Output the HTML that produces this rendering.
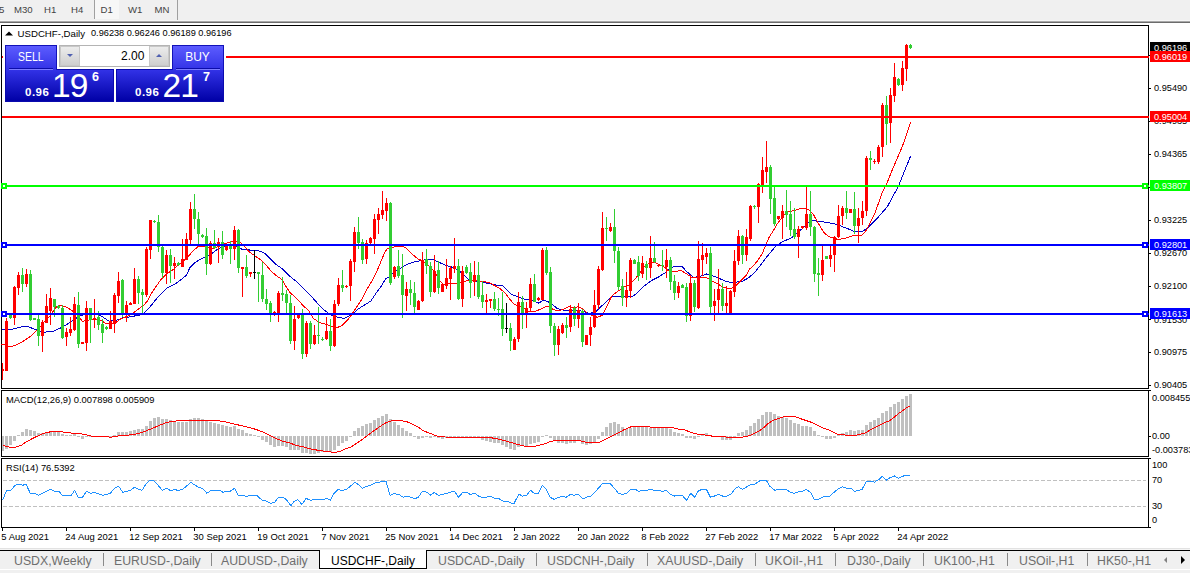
<!DOCTYPE html><html><head><meta charset="utf-8"><title>USDCHF-,Daily</title><style>
*{margin:0;padding:0;box-sizing:border-box}
html,body{width:1190px;height:573px;overflow:hidden;background:#fff}
body{font-family:"Liberation Sans",sans-serif;position:relative;color:#000}
.abs{position:absolute}
.t{position:absolute;white-space:nowrap;line-height:1}
.tb{left:0;top:0;width:1190px;height:20px;background:#f0f0f0}
.tbt{font-size:9.6px;color:#444;top:5px}
.ax{font-size:9.2px;left:1154px;color:#000}
.lbl{position:absolute;left:1150px;width:40px;height:11px;color:#fff;font-size:9.2px;line-height:12px;overflow:hidden;padding-left:4px;white-space:nowrap}
.dt{font-size:9.45px;top:532px;color:#000}
.tab{font-size:12.3px;top:555px;color:#6e6e6e}
.sep{position:absolute;top:553px;width:1px;height:13px;background:#8a8a8a}
</style></head><body>
<div class="abs tb"></div>
<div class="abs" style="left:0;top:20px;width:1190px;height:1px;background:#f6f6f6"></div>
<div class="abs" style="left:0;top:21px;width:1190px;height:1px;background:#a8a8a8"></div>
<div class="abs" style="left:0;top:22px;width:1190px;height:1px;background:#6c6c6c"></div>
<div class="abs" style="left:95px;top:0;width:24px;height:19px;background:#f7f7f7"></div>
<div class="abs" style="left:94px;top:0;width:1px;height:19px;background:#a0a0a0"></div>
<div class="abs" style="left:177px;top:0;width:1px;height:20px;background:#a0a0a0"></div>
<div class="t tbt" style="left:-1px">5</div>
<div class="t tbt" style="left:14px">M30</div>
<div class="t tbt" style="left:44px">H1</div>
<div class="t tbt" style="left:71px">H4</div>
<div class="t tbt" style="left:100.5px">D1</div>
<div class="t tbt" style="left:128px">W1</div>
<div class="t tbt" style="left:154.5px">MN</div>
<svg class="abs" style="left:0;top:0" width="1190" height="573" viewBox="0 0 1190 573" shape-rendering="crispEdges">
<rect x="1" y="25" width="1148" height="1" fill="#000"/>
<rect x="1" y="388" width="1148" height="1" fill="#000"/>
<rect x="1" y="25" width="1" height="364" fill="#000"/>
<rect x="1148" y="25" width="1" height="364" fill="#000"/>
<rect x="1" y="390" width="1148" height="1" fill="#000"/>
<rect x="1" y="456" width="1148" height="1" fill="#000"/>
<rect x="1" y="390" width="1" height="67" fill="#000"/>
<rect x="1148" y="390" width="1" height="67" fill="#000"/>
<rect x="1" y="458" width="1148" height="1" fill="#000"/>
<rect x="1" y="527" width="1148" height="1" fill="#000"/>
<rect x="1" y="458" width="1" height="70" fill="#000"/>
<rect x="1148" y="458" width="1" height="70" fill="#000"/>
<rect x="1149" y="55" width="2" height="1" fill="#000"/>
<rect x="1149" y="88" width="2" height="1" fill="#000"/>
<rect x="1149" y="121" width="2" height="1" fill="#000"/>
<rect x="1149" y="154" width="2" height="1" fill="#000"/>
<rect x="1149" y="187" width="2" height="1" fill="#000"/>
<rect x="1149" y="220" width="2" height="1" fill="#000"/>
<rect x="1149" y="253" width="2" height="1" fill="#000"/>
<rect x="1149" y="286" width="2" height="1" fill="#000"/>
<rect x="1149" y="319" width="2" height="1" fill="#000"/>
<rect x="1149" y="352" width="2" height="1" fill="#000"/>
<rect x="1149" y="385" width="2" height="1" fill="#000"/>
<rect x="1149" y="390" width="2" height="1" fill="#000"/>
<rect x="1149" y="436" width="2" height="1" fill="#000"/>
<rect x="1149" y="458" width="2" height="1" fill="#000"/>
<rect x="1149" y="527" width="2" height="1" fill="#000"/>
<rect x="2" y="528" width="1" height="3" fill="#000"/>
<rect x="66" y="528" width="1" height="3" fill="#000"/>
<rect x="130" y="528" width="1" height="3" fill="#000"/>
<rect x="194" y="528" width="1" height="3" fill="#000"/>
<rect x="258" y="528" width="1" height="3" fill="#000"/>
<rect x="322" y="528" width="1" height="3" fill="#000"/>
<rect x="386" y="528" width="1" height="3" fill="#000"/>
<rect x="450" y="528" width="1" height="3" fill="#000"/>
<rect x="514" y="528" width="1" height="3" fill="#000"/>
<rect x="578" y="528" width="1" height="3" fill="#000"/>
<rect x="642" y="528" width="1" height="3" fill="#000"/>
<rect x="706" y="528" width="1" height="3" fill="#000"/>
<rect x="770" y="528" width="1" height="3" fill="#000"/>
<rect x="834" y="528" width="1" height="3" fill="#000"/>
<rect x="898" y="528" width="1" height="3" fill="#000"/>
<line x1="3" y1="480.5" x2="1146" y2="480.5" stroke="#c0c0c0" stroke-width="1" stroke-dasharray="3.5,2.5"/>
<line x1="3" y1="506.5" x2="1146" y2="506.5" stroke="#c0c0c0" stroke-width="1" stroke-dasharray="3.5,2.5"/>
<rect x="2" y="436" width="2" height="15" fill="#c0c0c0"/>
<rect x="5" y="436" width="3" height="13" fill="#c0c0c0"/>
<rect x="9" y="436" width="3" height="9" fill="#c0c0c0"/>
<rect x="13" y="436" width="3" height="5" fill="#c0c0c0"/>
<rect x="17" y="435" width="3" height="1" fill="#c0c0c0"/>
<rect x="21" y="432" width="3" height="4" fill="#c0c0c0"/>
<rect x="25" y="429" width="3" height="7" fill="#c0c0c0"/>
<rect x="29" y="430" width="3" height="6" fill="#c0c0c0"/>
<rect x="33" y="431" width="3" height="5" fill="#c0c0c0"/>
<rect x="37" y="433" width="3" height="3" fill="#c0c0c0"/>
<rect x="41" y="433" width="3" height="3" fill="#c0c0c0"/>
<rect x="45" y="433" width="3" height="3" fill="#c0c0c0"/>
<rect x="49" y="432" width="3" height="4" fill="#c0c0c0"/>
<rect x="53" y="432" width="3" height="4" fill="#c0c0c0"/>
<rect x="57" y="432" width="3" height="4" fill="#c0c0c0"/>
<rect x="61" y="434" width="3" height="2" fill="#c0c0c0"/>
<rect x="65" y="435" width="3" height="1" fill="#c0c0c0"/>
<rect x="69" y="435" width="3" height="1" fill="#c0c0c0"/>
<rect x="73" y="434" width="3" height="2" fill="#c0c0c0"/>
<rect x="77" y="436" width="3" height="1" fill="#c0c0c0"/>
<rect x="81" y="436" width="3" height="3" fill="#c0c0c0"/>
<rect x="85" y="436" width="3" height="1" fill="#c0c0c0"/>
<rect x="89" y="436" width="3" height="1" fill="#c0c0c0"/>
<rect x="93" y="436" width="3" height="1" fill="#c0c0c0"/>
<rect x="97" y="436" width="3" height="1" fill="#c0c0c0"/>
<rect x="101" y="436" width="3" height="1" fill="#c0c0c0"/>
<rect x="105" y="436" width="3" height="1" fill="#c0c0c0"/>
<rect x="109" y="436" width="3" height="1" fill="#c0c0c0"/>
<rect x="113" y="435" width="3" height="1" fill="#c0c0c0"/>
<rect x="117" y="432" width="3" height="4" fill="#c0c0c0"/>
<rect x="121" y="432" width="3" height="4" fill="#c0c0c0"/>
<rect x="125" y="432" width="3" height="4" fill="#c0c0c0"/>
<rect x="129" y="431" width="3" height="5" fill="#c0c0c0"/>
<rect x="133" y="430" width="3" height="6" fill="#c0c0c0"/>
<rect x="137" y="429" width="3" height="7" fill="#c0c0c0"/>
<rect x="141" y="429" width="3" height="7" fill="#c0c0c0"/>
<rect x="145" y="426" width="3" height="10" fill="#c0c0c0"/>
<rect x="149" y="421" width="3" height="15" fill="#c0c0c0"/>
<rect x="153" y="418" width="3" height="18" fill="#c0c0c0"/>
<rect x="157" y="417" width="3" height="19" fill="#c0c0c0"/>
<rect x="161" y="419" width="3" height="17" fill="#c0c0c0"/>
<rect x="165" y="419" width="3" height="17" fill="#c0c0c0"/>
<rect x="169" y="420" width="3" height="16" fill="#c0c0c0"/>
<rect x="173" y="421" width="3" height="15" fill="#c0c0c0"/>
<rect x="177" y="422" width="3" height="14" fill="#c0c0c0"/>
<rect x="181" y="422" width="3" height="14" fill="#c0c0c0"/>
<rect x="185" y="422" width="3" height="14" fill="#c0c0c0"/>
<rect x="189" y="419" width="3" height="17" fill="#c0c0c0"/>
<rect x="193" y="418" width="3" height="18" fill="#c0c0c0"/>
<rect x="197" y="418" width="3" height="18" fill="#c0c0c0"/>
<rect x="201" y="419" width="3" height="17" fill="#c0c0c0"/>
<rect x="205" y="421" width="3" height="15" fill="#c0c0c0"/>
<rect x="209" y="422" width="3" height="14" fill="#c0c0c0"/>
<rect x="213" y="423" width="3" height="13" fill="#c0c0c0"/>
<rect x="217" y="424" width="3" height="12" fill="#c0c0c0"/>
<rect x="221" y="425" width="3" height="11" fill="#c0c0c0"/>
<rect x="225" y="426" width="3" height="10" fill="#c0c0c0"/>
<rect x="229" y="427" width="3" height="9" fill="#c0c0c0"/>
<rect x="233" y="426" width="3" height="10" fill="#c0c0c0"/>
<rect x="237" y="429" width="3" height="7" fill="#c0c0c0"/>
<rect x="241" y="430" width="3" height="6" fill="#c0c0c0"/>
<rect x="245" y="433" width="3" height="3" fill="#c0c0c0"/>
<rect x="249" y="434" width="3" height="2" fill="#c0c0c0"/>
<rect x="253" y="435" width="3" height="1" fill="#c0c0c0"/>
<rect x="257" y="436" width="3" height="1" fill="#c0c0c0"/>
<rect x="261" y="436" width="3" height="4" fill="#c0c0c0"/>
<rect x="265" y="436" width="3" height="6" fill="#c0c0c0"/>
<rect x="269" y="436" width="3" height="9" fill="#c0c0c0"/>
<rect x="273" y="436" width="3" height="11" fill="#c0c0c0"/>
<rect x="277" y="436" width="3" height="10" fill="#c0c0c0"/>
<rect x="281" y="436" width="3" height="10" fill="#c0c0c0"/>
<rect x="285" y="436" width="3" height="11" fill="#c0c0c0"/>
<rect x="289" y="436" width="3" height="14" fill="#c0c0c0"/>
<rect x="293" y="436" width="3" height="14" fill="#c0c0c0"/>
<rect x="297" y="436" width="3" height="14" fill="#c0c0c0"/>
<rect x="301" y="436" width="3" height="17" fill="#c0c0c0"/>
<rect x="305" y="436" width="3" height="17" fill="#c0c0c0"/>
<rect x="309" y="436" width="3" height="18" fill="#c0c0c0"/>
<rect x="313" y="436" width="3" height="18" fill="#c0c0c0"/>
<rect x="317" y="436" width="3" height="17" fill="#c0c0c0"/>
<rect x="321" y="436" width="3" height="16" fill="#c0c0c0"/>
<rect x="325" y="436" width="3" height="16" fill="#c0c0c0"/>
<rect x="329" y="436" width="3" height="16" fill="#c0c0c0"/>
<rect x="333" y="436" width="3" height="14" fill="#c0c0c0"/>
<rect x="337" y="436" width="3" height="10" fill="#c0c0c0"/>
<rect x="341" y="436" width="3" height="7" fill="#c0c0c0"/>
<rect x="345" y="436" width="3" height="5" fill="#c0c0c0"/>
<rect x="349" y="436" width="3" height="1" fill="#c0c0c0"/>
<rect x="353" y="431" width="3" height="5" fill="#c0c0c0"/>
<rect x="357" y="428" width="3" height="8" fill="#c0c0c0"/>
<rect x="361" y="426" width="3" height="10" fill="#c0c0c0"/>
<rect x="365" y="424" width="3" height="12" fill="#c0c0c0"/>
<rect x="369" y="423" width="3" height="13" fill="#c0c0c0"/>
<rect x="373" y="420" width="3" height="16" fill="#c0c0c0"/>
<rect x="377" y="418" width="3" height="18" fill="#c0c0c0"/>
<rect x="381" y="416" width="3" height="20" fill="#c0c0c0"/>
<rect x="385" y="414" width="3" height="22" fill="#c0c0c0"/>
<rect x="389" y="419" width="3" height="17" fill="#c0c0c0"/>
<rect x="393" y="422" width="3" height="14" fill="#c0c0c0"/>
<rect x="397" y="425" width="3" height="11" fill="#c0c0c0"/>
<rect x="401" y="428" width="3" height="8" fill="#c0c0c0"/>
<rect x="405" y="431" width="3" height="5" fill="#c0c0c0"/>
<rect x="409" y="433" width="3" height="3" fill="#c0c0c0"/>
<rect x="413" y="436" width="3" height="1" fill="#c0c0c0"/>
<rect x="417" y="436" width="3" height="3" fill="#c0c0c0"/>
<rect x="421" y="436" width="3" height="2" fill="#c0c0c0"/>
<rect x="425" y="436" width="3" height="1" fill="#c0c0c0"/>
<rect x="429" y="436" width="3" height="2" fill="#c0c0c0"/>
<rect x="433" y="436" width="3" height="1" fill="#c0c0c0"/>
<rect x="437" y="436" width="3" height="2" fill="#c0c0c0"/>
<rect x="441" y="436" width="3" height="3" fill="#c0c0c0"/>
<rect x="445" y="436" width="3" height="2" fill="#c0c0c0"/>
<rect x="449" y="436" width="3" height="1" fill="#c0c0c0"/>
<rect x="453" y="436" width="3" height="1" fill="#c0c0c0"/>
<rect x="457" y="436" width="3" height="1" fill="#c0c0c0"/>
<rect x="461" y="436" width="3" height="1" fill="#c0c0c0"/>
<rect x="465" y="436" width="3" height="1" fill="#c0c0c0"/>
<rect x="469" y="436" width="3" height="1" fill="#c0c0c0"/>
<rect x="473" y="436" width="3" height="1" fill="#c0c0c0"/>
<rect x="477" y="436" width="3" height="2" fill="#c0c0c0"/>
<rect x="481" y="436" width="3" height="4" fill="#c0c0c0"/>
<rect x="485" y="436" width="3" height="5" fill="#c0c0c0"/>
<rect x="489" y="436" width="3" height="6" fill="#c0c0c0"/>
<rect x="493" y="436" width="3" height="7" fill="#c0c0c0"/>
<rect x="497" y="436" width="3" height="7" fill="#c0c0c0"/>
<rect x="501" y="436" width="3" height="9" fill="#c0c0c0"/>
<rect x="505" y="436" width="3" height="11" fill="#c0c0c0"/>
<rect x="509" y="436" width="3" height="13" fill="#c0c0c0"/>
<rect x="513" y="436" width="3" height="14" fill="#c0c0c0"/>
<rect x="517" y="436" width="3" height="11" fill="#c0c0c0"/>
<rect x="521" y="436" width="3" height="10" fill="#c0c0c0"/>
<rect x="525" y="436" width="3" height="10" fill="#c0c0c0"/>
<rect x="529" y="436" width="3" height="8" fill="#c0c0c0"/>
<rect x="533" y="436" width="3" height="7" fill="#c0c0c0"/>
<rect x="537" y="436" width="3" height="6" fill="#c0c0c0"/>
<rect x="541" y="436" width="3" height="1" fill="#c0c0c0"/>
<rect x="545" y="435" width="3" height="1" fill="#c0c0c0"/>
<rect x="549" y="436" width="3" height="2" fill="#c0c0c0"/>
<rect x="553" y="436" width="3" height="5" fill="#c0c0c0"/>
<rect x="557" y="436" width="3" height="7" fill="#c0c0c0"/>
<rect x="561" y="436" width="3" height="7" fill="#c0c0c0"/>
<rect x="565" y="436" width="3" height="8" fill="#c0c0c0"/>
<rect x="569" y="436" width="3" height="7" fill="#c0c0c0"/>
<rect x="573" y="436" width="3" height="7" fill="#c0c0c0"/>
<rect x="577" y="436" width="3" height="5" fill="#c0c0c0"/>
<rect x="581" y="436" width="3" height="8" fill="#c0c0c0"/>
<rect x="585" y="436" width="3" height="9" fill="#c0c0c0"/>
<rect x="589" y="436" width="3" height="8" fill="#c0c0c0"/>
<rect x="593" y="436" width="3" height="6" fill="#c0c0c0"/>
<rect x="597" y="436" width="3" height="3" fill="#c0c0c0"/>
<rect x="601" y="432" width="3" height="4" fill="#c0c0c0"/>
<rect x="605" y="427" width="3" height="9" fill="#c0c0c0"/>
<rect x="609" y="423" width="3" height="13" fill="#c0c0c0"/>
<rect x="613" y="422" width="3" height="14" fill="#c0c0c0"/>
<rect x="617" y="424" width="3" height="12" fill="#c0c0c0"/>
<rect x="621" y="427" width="3" height="9" fill="#c0c0c0"/>
<rect x="625" y="429" width="3" height="7" fill="#c0c0c0"/>
<rect x="629" y="428" width="3" height="8" fill="#c0c0c0"/>
<rect x="633" y="427" width="3" height="9" fill="#c0c0c0"/>
<rect x="637" y="427" width="3" height="9" fill="#c0c0c0"/>
<rect x="641" y="427" width="3" height="9" fill="#c0c0c0"/>
<rect x="645" y="427" width="3" height="9" fill="#c0c0c0"/>
<rect x="649" y="428" width="3" height="8" fill="#c0c0c0"/>
<rect x="653" y="428" width="3" height="8" fill="#c0c0c0"/>
<rect x="657" y="428" width="3" height="8" fill="#c0c0c0"/>
<rect x="661" y="428" width="3" height="8" fill="#c0c0c0"/>
<rect x="665" y="428" width="3" height="8" fill="#c0c0c0"/>
<rect x="669" y="429" width="3" height="7" fill="#c0c0c0"/>
<rect x="673" y="432" width="3" height="4" fill="#c0c0c0"/>
<rect x="677" y="433" width="3" height="3" fill="#c0c0c0"/>
<rect x="681" y="434" width="3" height="2" fill="#c0c0c0"/>
<rect x="685" y="436" width="3" height="2" fill="#c0c0c0"/>
<rect x="689" y="436" width="3" height="2" fill="#c0c0c0"/>
<rect x="693" y="436" width="3" height="3" fill="#c0c0c0"/>
<rect x="697" y="436" width="3" height="1" fill="#c0c0c0"/>
<rect x="701" y="434" width="3" height="2" fill="#c0c0c0"/>
<rect x="705" y="433" width="3" height="3" fill="#c0c0c0"/>
<rect x="709" y="435" width="3" height="1" fill="#c0c0c0"/>
<rect x="713" y="436" width="3" height="1" fill="#c0c0c0"/>
<rect x="717" y="436" width="3" height="1" fill="#c0c0c0"/>
<rect x="721" y="436" width="3" height="4" fill="#c0c0c0"/>
<rect x="725" y="436" width="3" height="4" fill="#c0c0c0"/>
<rect x="729" y="436" width="3" height="4" fill="#c0c0c0"/>
<rect x="733" y="436" width="3" height="1" fill="#c0c0c0"/>
<rect x="737" y="433" width="3" height="3" fill="#c0c0c0"/>
<rect x="741" y="432" width="3" height="4" fill="#c0c0c0"/>
<rect x="745" y="430" width="3" height="6" fill="#c0c0c0"/>
<rect x="749" y="426" width="3" height="10" fill="#c0c0c0"/>
<rect x="753" y="423" width="3" height="13" fill="#c0c0c0"/>
<rect x="757" y="419" width="3" height="17" fill="#c0c0c0"/>
<rect x="761" y="415" width="3" height="21" fill="#c0c0c0"/>
<rect x="765" y="412" width="3" height="24" fill="#c0c0c0"/>
<rect x="769" y="412" width="3" height="24" fill="#c0c0c0"/>
<rect x="773" y="414" width="3" height="22" fill="#c0c0c0"/>
<rect x="777" y="416" width="3" height="20" fill="#c0c0c0"/>
<rect x="781" y="417" width="3" height="19" fill="#c0c0c0"/>
<rect x="785" y="418" width="3" height="18" fill="#c0c0c0"/>
<rect x="789" y="420" width="3" height="16" fill="#c0c0c0"/>
<rect x="793" y="423" width="3" height="13" fill="#c0c0c0"/>
<rect x="797" y="424" width="3" height="12" fill="#c0c0c0"/>
<rect x="801" y="426" width="3" height="10" fill="#c0c0c0"/>
<rect x="805" y="426" width="3" height="10" fill="#c0c0c0"/>
<rect x="809" y="427" width="3" height="9" fill="#c0c0c0"/>
<rect x="813" y="431" width="3" height="5" fill="#c0c0c0"/>
<rect x="817" y="435" width="3" height="1" fill="#c0c0c0"/>
<rect x="821" y="436" width="3" height="1" fill="#c0c0c0"/>
<rect x="825" y="436" width="3" height="3" fill="#c0c0c0"/>
<rect x="829" y="436" width="3" height="3" fill="#c0c0c0"/>
<rect x="833" y="436" width="3" height="2" fill="#c0c0c0"/>
<rect x="837" y="434" width="3" height="2" fill="#c0c0c0"/>
<rect x="841" y="433" width="3" height="3" fill="#c0c0c0"/>
<rect x="845" y="432" width="3" height="4" fill="#c0c0c0"/>
<rect x="849" y="430" width="3" height="6" fill="#c0c0c0"/>
<rect x="853" y="431" width="3" height="5" fill="#c0c0c0"/>
<rect x="857" y="430" width="3" height="6" fill="#c0c0c0"/>
<rect x="861" y="430" width="3" height="6" fill="#c0c0c0"/>
<rect x="865" y="425" width="3" height="11" fill="#c0c0c0"/>
<rect x="869" y="422" width="3" height="14" fill="#c0c0c0"/>
<rect x="873" y="420" width="3" height="16" fill="#c0c0c0"/>
<rect x="877" y="418" width="3" height="18" fill="#c0c0c0"/>
<rect x="881" y="413" width="3" height="23" fill="#c0c0c0"/>
<rect x="885" y="411" width="3" height="25" fill="#c0c0c0"/>
<rect x="889" y="407" width="3" height="29" fill="#c0c0c0"/>
<rect x="893" y="404" width="3" height="32" fill="#c0c0c0"/>
<rect x="897" y="402" width="3" height="34" fill="#c0c0c0"/>
<rect x="901" y="399" width="3" height="37" fill="#c0c0c0"/>
<rect x="905" y="396" width="3" height="40" fill="#c0c0c0"/>
<rect x="909" y="394" width="3" height="42" fill="#c0c0c0"/>
</svg>
<svg class="abs" style="left:0;top:0" width="1190" height="573" viewBox="0 0 1190 573">
<polyline points="2.5,445.6 6.7,446.4 11.8,447.6 16.8,446.9 21.8,445.1 26.9,441.4 33.6,438.0 40.3,434.7 45.4,433.0 50.4,431.8 55.5,431.3 60.5,431.6 67.2,432.6 73.9,433.3 80.7,433.8 87.4,435.0 94.1,436.7 100.8,436.8 107.6,436.8 110.9,437.3 117.6,436.0 124.4,435.5 131.1,434.7 137.8,433.8 144.5,431.6 151.3,428.8 158.0,425.9 164.7,423.2 171.4,421.5 178.2,420.7 184.9,420.7 191.6,420.5 199.2,420.5 206.1,420.5 216.2,420.5 224.6,421.7 233.0,423.7 241.4,425.7 249.8,427.6 256.5,429.6 263.2,432.1 269.9,435.5 276.7,438.9 283.4,441.4 290.1,443.1 296.8,445.6 303.6,446.9 310.3,448.9 317.0,450.1 323.7,451.1 330.5,452.0 335.5,452.3 340.5,451.1 345.6,448.9 350.6,447.3 355.7,443.9 362.4,439.4 369.1,434.3 374.2,430.5 379.2,427.1 384.2,423.7 389.3,421.2 394.7,420.5 399.8,420.5 406.5,421.5 413.2,424.6 418.3,427.1 423.3,430.8 430.0,433.3 436.7,436.0 445.1,437.0 455.2,437.2 472.0,437.2 488.8,437.3 497.2,438.9 505.6,441.0 514.1,443.4 520.8,445.2 525.8,446.4 534.2,446.4 540.9,444.7 546.0,443.4 550.2,441.4 556.1,440.5 564.5,440.5 572.9,440.5 579.6,440.5 583.8,441.7 587.2,442.4 590.7,442.7 599.1,442.4 604.2,440.0 610.9,436.7 617.6,433.3 624.3,429.6 631.1,426.8 637.8,426.4 647.9,426.6 651.2,427.4 661.3,427.4 671.4,427.4 678.1,429.1 684.8,429.9 691.6,432.6 698.3,434.3 705.0,435.0 713.4,436.3 723.5,436.7 728.5,437.3 742.0,437.2 750.4,435.5 758.8,431.3 763.8,427.6 768.9,422.9 773.9,419.9 784.4,416.4 794.5,416.4 801.2,418.9 811.3,422.3 821.4,427.3 829.8,430.3 836.5,434.0 843.2,434.5 846.6,435.4 855.0,435.4 865.1,432.9 873.5,428.3 881.9,423.9 890.3,420.3 898.7,413.5 905.4,408.5 909.6,406.0" fill="none" stroke="#ff0000" stroke-width="1" stroke-linejoin="round" shape-rendering="crispEdges"/>
<polyline points="2.5,500.3 6.7,490.3 10.9,490.3 15.1,485.2 18.5,484.4 22.7,485.2 26.1,484.4 30.3,493.3 34.5,493.3 38.7,495.3 43.7,492.8 50.4,489.4 54.6,491.1 58.8,491.1 63.0,496.1 67.2,495.3 71.4,495.3 74.5,490.3 78.2,497.3 82.4,497.3 86.6,491.1 90.8,493.3 94.1,492.3 98.3,493.6 102.5,495.3 110.1,493.6 114.3,488.6 118.5,486.1 122.7,492.3 130.3,490.3 134.5,487.2 137.8,488.9 142.0,490.3 146.2,483.5 149.6,480.5 153.8,480.5 158.0,485.2 162.2,490.3 166.4,488.2 170.6,490.6 174.8,489.4 178.2,490.6 182.4,489.4 186.6,486.1 190.8,482.2 195.0,485.2 198.5,487.2 202.7,488.6 206.9,493.3 211.1,490.3 219.5,490.3 222.9,492.3 226.3,491.1 230.5,491.1 234.7,488.2 238.0,495.3 243.9,495.3 246.4,496.5 249.8,495.3 256.5,495.3 262.4,500.3 266.6,501.2 270.8,503.4 275.0,502.0 278.4,497.3 283.4,497.3 286.8,500.3 291.0,505.7 294.3,501.2 297.7,499.5 301.9,504.5 306.1,498.3 310.3,500.3 314.5,499.5 323.7,499.5 327.1,498.3 330.5,500.3 333.8,493.6 338.0,489.4 342.2,490.6 346.4,489.4 350.6,486.1 354.8,482.2 358.2,484.4 362.4,488.2 365.7,486.6 370.8,485.2 375.8,482.7 380.9,481.8 385.9,481.0 390.1,495.3 393.5,493.6 398.9,494.5 403.1,497.3 406.5,496.1 410.7,497.3 414.9,498.7 418.3,497.3 422.5,491.1 426.7,492.3 430.9,495.3 434.2,492.3 438.4,495.3 442.6,494.5 446.8,493.3 451.0,491.9 454.4,491.1 458.6,497.3 462.8,492.3 467.0,492.3 470.4,494.5 474.6,493.3 478.8,496.1 482.1,497.3 486.3,497.3 490.5,496.1 494.7,498.3 498.9,498.7 503.1,501.2 507.3,501.2 511.5,503.4 514.1,503.4 518.8,494.1 522.5,496.1 526.7,495.3 530.5,490.3 534.2,493.3 538.4,493.3 542.3,485.2 546.0,488.9 550.2,497.3 554.4,499.5 558.6,497.3 562.8,496.1 566.2,497.3 570.4,494.5 574.6,495.3 577.9,494.1 583.0,498.7 586.3,497.3 590.7,496.1 595.8,491.1 602.5,483.5 610.1,483.5 614.3,488.2 618.5,493.3 622.7,494.5 626.9,493.3 630.7,489.4 635.3,489.4 639.1,491.4 642.0,490.3 647.0,490.3 650.4,489.4 654.6,490.3 658.8,490.3 662.2,491.4 666.4,490.3 670.6,494.5 674.8,496.1 678.1,495.3 682.3,495.3 686.5,500.3 690.7,493.3 694.6,497.3 698.3,491.1 701.6,489.4 706.4,489.4 710.4,497.3 714.3,496.1 718.5,494.5 722.7,496.1 726.9,496.1 731.1,494.1 734.4,489.4 738.3,486.6 742.3,489.4 746.2,487.2 750.4,484.9 754.6,484.4 759.6,481.0 763.0,480.2 766.4,480.5 769.7,486.1 774.8,490.3 777.3,489.4 786.1,489.4 790.3,492.3 794.5,493.3 798.7,491.9 802.6,491.1 806.3,489.4 810.5,492.3 814.3,499.5 818.0,499.5 822.2,497.3 825.6,496.1 829.8,496.1 834.0,492.3 838.2,488.9 842.4,486.9 846.6,488.1 850.8,488.2 854.7,491.4 858.4,490.3 862.1,489.4 866.4,481.0 870.1,481.0 874.3,482.2 878.5,479.8 882.2,476.3 886.1,480.2 890.3,477.6 894.5,476.0 898.4,478.2 902.1,476.5 906.3,475.1 909.9,475.1" fill="none" stroke="#1e90ff" stroke-width="1" stroke-linejoin="round" shape-rendering="crispEdges"/>
</svg>
<svg class="abs" style="left:0;top:0" width="1190" height="573" viewBox="0 0 1190 573">
<polyline points="1.5,329.7 10.1,329.7 18.5,327.5 26.1,326.0 33.6,328.8 43.7,332.2 53.8,331.3 62.2,327.1 70.6,322.1 79.0,316.2 84.0,314.5 90.8,314.0 99.2,315.0 104.2,317.9 109.2,321.3 116.0,320.4 122.7,317.9 131.1,316.7 139.5,315.0 144.5,312.9 151.3,305.3 158.0,296.9 166.4,288.5 174.8,284.3 181.5,279.2 186.6,275.0 189.9,267.4 195.0,262.4 199.7,259.8 202.7,258.3 211.1,254.1 217.8,249.0 222.9,246.5 229.6,244.8 236.3,246.8 241.4,249.0 246.4,249.9 254.8,250.2 259.9,251.2 264.9,253.2 269.9,258.3 275.0,263.6 281.7,268.4 288.4,275.1 296.8,281.8 303.6,288.5 310.3,295.2 317.0,302.8 323.7,309.5 328.8,313.7 333.8,316.2 338.9,317.4 343.9,318.4 348.9,316.2 354.0,312.9 357.3,309.5 364.1,305.3 370.8,301.1 375.8,293.5 380.9,286.8 385.9,278.4 389.3,276.7 394.7,271.8 401.4,267.6 408.2,263.8 414.9,261.8 421.6,260.4 428.3,259.2 433.4,259.7 438.4,262.1 445.1,265.1 451.9,267.1 458.6,270.2 463.6,274.9 468.7,279.4 475.4,281.1 482.1,281.9 488.8,283.6 495.6,285.0 502.3,285.6 511.5,294.2 518.3,297.1 525.0,299.2 531.7,299.7 538.4,303.1 543.5,300.4 547.7,301.4 551.9,304.3 556.9,308.2 561.9,309.8 568.7,311.0 573.7,309.8 583.8,311.5 588.8,313.5 595.6,311.8 600.6,306.8 605.6,302.6 610.7,297.6 614.1,296.4 621.0,296.6 629.4,296.9 632.7,296.0 635.9,294.2 639.3,290.8 644.5,285.7 651.2,280.7 657.9,277.3 664.7,273.1 669.7,268.9 673.9,266.7 682.3,266.7 686.5,271.4 693.2,277.3 700.0,276.5 706.7,273.9 711.7,275.3 718.5,278.2 725.2,281.0 730.2,282.4 736.9,282.0 742.0,281.5 749.4,277.3 756.2,270.6 762.2,263.0 767.2,256.3 772.2,250.4 776.3,245.4 783.7,241.2 791.5,237.8 796.5,233.6 803.2,227.7 808.3,222.7 811.6,220.5 820.0,221.5 828.4,222.7 836.8,224.4 845.2,227.7 853.6,231.1 862.1,231.6 868.8,226.9 875.5,220.2 882.2,212.6 887.3,206.7 898.7,185.7 903.7,173.1 907.1,164.7 910.5,156.3" fill="none" stroke="#0000c8" stroke-width="1" stroke-linejoin="round" shape-rendering="crispEdges"/>
<polyline points="1.5,344.1 10.1,346.5 15.1,345.6 21.8,342.3 30.3,336.4 38.7,328.8 43.7,322.1 50.4,315.4 55.5,307.8 58.8,305.3 63.9,306.1 70.6,309.5 77.3,314.5 82.4,321.3 87.4,320.4 94.1,318.7 100.8,320.4 105.9,323.4 114.3,323.8 121.0,318.7 127.7,316.2 134.5,312.0 139.5,308.3 144.5,304.5 147.9,300.3 151.3,293.5 156.3,286.0 161.3,279.2 166.4,274.2 171.4,270.8 174.8,268.2 181.5,262.4 186.6,258.2 193.3,250.6 198.3,246.4 206.1,246.5 212.8,249.0 217.8,246.8 223.7,244.0 229.6,242.3 234.7,241.1 240.0,241.8 244.7,246.5 249.8,252.4 254.8,255.7 260.7,259.9 266.6,265.8 271.6,271.7 276.7,275.9 281.7,279.3 285.1,285.1 290.1,292.7 296.8,298.6 303.6,306.1 308.6,310.3 313.6,318.7 320.4,322.9 327.1,324.6 332.1,326.3 337.2,327.6 342.2,325.5 347.3,320.4 352.3,313.7 357.3,306.1 362.4,298.6 367.4,288.5 372.5,280.1 376.7,271.7 380.9,261.6 385.1,251.5 387.6,248.5 391.0,248.2 395.6,246.5 401.9,246.5 405.0,247.3 408.2,250.0 413.2,255.0 418.3,259.2 421.6,260.4 426.7,263.4 431.7,268.5 436.7,275.2 440.1,281.1 443.5,284.5 446.8,283.6 455.2,283.3 461.9,282.8 467.0,280.6 472.0,281.1 477.1,279.9 482.1,281.6 488.8,282.3 495.6,286.1 500.6,289.0 505.6,293.7 513.2,303.4 518.3,306.0 523.3,307.6 528.3,311.0 535.1,311.5 540.1,309.3 545.1,306.8 549.3,306.5 553.5,309.8 558.6,310.5 563.6,309.3 568.7,306.8 573.7,307.6 578.8,306.8 583.8,309.8 587.4,313.4 592.4,315.4 597.4,317.4 602.3,315.2 605.6,308.5 609.0,301.8 611.7,296.0 617.4,291.7 624.3,286.6 629.4,284.9 634.4,279.8 637.8,275.6 641.1,271.4 644.5,266.4 649.5,263.0 654.6,262.2 659.6,264.7 664.7,267.2 668.0,270.6 674.8,271.4 681.5,270.6 686.5,273.9 691.6,277.3 700.0,277.3 706.7,277.6 711.7,280.7 716.8,283.2 721.8,286.6 726.9,288.2 731.9,288.2 736.0,285.7 741.0,280.7 746.1,275.6 749.4,268.9 752.1,267.2 757.1,261.3 762.2,253.8 765.5,245.4 768.9,237.8 773.0,231.1 778.0,222.7 783.1,216.0 788.1,211.8 794.8,210.4 802.4,208.1 808.3,209.2 813.3,214.3 818.4,223.5 823.4,231.9 828.4,236.6 833.5,238.3 838.5,239.5 845.2,238.3 853.6,235.6 862.1,235.0 866.3,230.3 870.5,221.8 875.5,211.8 881.9,193.3 886.9,183.2 892.0,170.6 897.0,158.8 902.1,147.1 906.3,135.3 910.5,122.2" fill="none" stroke="#ff0000" stroke-width="1" stroke-linejoin="round" shape-rendering="crispEdges"/>
</svg>
<svg class="abs" style="left:0;top:0" width="1190" height="573" viewBox="0 0 1190 573" shape-rendering="crispEdges">
<rect x="2" y="363" width="1" height="17" fill="#ff0000"/>
<rect x="2" y="369" width="2" height="2" fill="#ff0000"/>
<rect x="6" y="318" width="1" height="53" fill="#ff0000"/>
<rect x="5" y="321" width="3" height="50" fill="#ff0000"/>
<rect x="10" y="314" width="1" height="5" fill="#32cd32"/>
<rect x="9" y="315" width="3" height="3" fill="#32cd32"/>
<rect x="14" y="286" width="1" height="39" fill="#ff0000"/>
<rect x="13" y="287" width="3" height="31" fill="#ff0000"/>
<rect x="18" y="272" width="1" height="23" fill="#ff0000"/>
<rect x="17" y="275" width="3" height="13" fill="#ff0000"/>
<rect x="22" y="268" width="1" height="24" fill="#32cd32"/>
<rect x="21" y="275" width="3" height="9" fill="#32cd32"/>
<rect x="26" y="269" width="1" height="18" fill="#ff0000"/>
<rect x="25" y="274" width="3" height="10" fill="#ff0000"/>
<rect x="30" y="270" width="1" height="51" fill="#32cd32"/>
<rect x="29" y="274" width="3" height="46" fill="#32cd32"/>
<rect x="34" y="318" width="1" height="2" fill="#32cd32"/>
<rect x="33" y="318" width="3" height="2" fill="#32cd32"/>
<rect x="38" y="313" width="1" height="33" fill="#32cd32"/>
<rect x="37" y="319" width="3" height="17" fill="#32cd32"/>
<rect x="42" y="320" width="1" height="32" fill="#ff0000"/>
<rect x="41" y="322" width="3" height="14" fill="#ff0000"/>
<rect x="46" y="294" width="1" height="29" fill="#ff0000"/>
<rect x="45" y="306" width="3" height="17" fill="#ff0000"/>
<rect x="50" y="288" width="1" height="37" fill="#ff0000"/>
<rect x="49" y="298" width="3" height="13" fill="#ff0000"/>
<rect x="54" y="299" width="1" height="18" fill="#32cd32"/>
<rect x="53" y="299" width="3" height="8" fill="#32cd32"/>
<rect x="58" y="305" width="1" height="4" fill="#32cd32"/>
<rect x="57" y="306" width="3" height="2" fill="#32cd32"/>
<rect x="62" y="305" width="1" height="34" fill="#32cd32"/>
<rect x="61" y="308" width="3" height="30" fill="#32cd32"/>
<rect x="66" y="328" width="1" height="18" fill="#ff0000"/>
<rect x="65" y="332" width="3" height="5" fill="#ff0000"/>
<rect x="70" y="317" width="1" height="19" fill="#ff0000"/>
<rect x="69" y="329" width="3" height="4" fill="#ff0000"/>
<rect x="74" y="297" width="1" height="34" fill="#ff0000"/>
<rect x="73" y="304" width="3" height="26" fill="#ff0000"/>
<rect x="78" y="292" width="1" height="56" fill="#32cd32"/>
<rect x="77" y="305" width="3" height="39" fill="#32cd32"/>
<rect x="82" y="342" width="1" height="2" fill="#ff0000"/>
<rect x="81" y="342" width="3" height="2" fill="#ff0000"/>
<rect x="86" y="301" width="1" height="50" fill="#ff0000"/>
<rect x="85" y="308" width="3" height="35" fill="#ff0000"/>
<rect x="90" y="308" width="1" height="35" fill="#32cd32"/>
<rect x="89" y="308" width="3" height="12" fill="#32cd32"/>
<rect x="94" y="299" width="1" height="29" fill="#ff0000"/>
<rect x="93" y="318" width="3" height="2" fill="#ff0000"/>
<rect x="98" y="311" width="1" height="19" fill="#32cd32"/>
<rect x="97" y="317" width="3" height="8" fill="#32cd32"/>
<rect x="102" y="319" width="1" height="24" fill="#32cd32"/>
<rect x="101" y="324" width="3" height="9" fill="#32cd32"/>
<rect x="106" y="326" width="1" height="4" fill="#32cd32"/>
<rect x="105" y="327" width="3" height="2" fill="#32cd32"/>
<rect x="110" y="311" width="1" height="18" fill="#ff0000"/>
<rect x="109" y="321" width="3" height="8" fill="#ff0000"/>
<rect x="114" y="293" width="1" height="40" fill="#ff0000"/>
<rect x="113" y="295" width="3" height="29" fill="#ff0000"/>
<rect x="118" y="272" width="1" height="31" fill="#ff0000"/>
<rect x="117" y="281" width="3" height="15" fill="#ff0000"/>
<rect x="122" y="279" width="1" height="38" fill="#32cd32"/>
<rect x="121" y="280" width="3" height="35" fill="#32cd32"/>
<rect x="126" y="301" width="1" height="21" fill="#ff0000"/>
<rect x="125" y="305" width="3" height="8" fill="#ff0000"/>
<rect x="130" y="302" width="1" height="3" fill="#ff0000"/>
<rect x="129" y="303" width="3" height="2" fill="#ff0000"/>
<rect x="134" y="268" width="1" height="36" fill="#ff0000"/>
<rect x="133" y="279" width="3" height="25" fill="#ff0000"/>
<rect x="138" y="276" width="1" height="28" fill="#32cd32"/>
<rect x="137" y="279" width="3" height="14" fill="#32cd32"/>
<rect x="142" y="289" width="1" height="26" fill="#32cd32"/>
<rect x="141" y="292" width="3" height="3" fill="#32cd32"/>
<rect x="146" y="247" width="1" height="50" fill="#ff0000"/>
<rect x="145" y="249" width="3" height="46" fill="#ff0000"/>
<rect x="150" y="220" width="1" height="39" fill="#ff0000"/>
<rect x="149" y="220" width="3" height="30" fill="#ff0000"/>
<rect x="154" y="220" width="1" height="3" fill="#32cd32"/>
<rect x="153" y="221" width="3" height="1" fill="#32cd32"/>
<rect x="158" y="215" width="1" height="37" fill="#32cd32"/>
<rect x="157" y="222" width="3" height="25" fill="#32cd32"/>
<rect x="162" y="244" width="1" height="34" fill="#32cd32"/>
<rect x="161" y="247" width="3" height="26" fill="#32cd32"/>
<rect x="166" y="250" width="1" height="34" fill="#ff0000"/>
<rect x="165" y="255" width="3" height="18" fill="#ff0000"/>
<rect x="170" y="249" width="1" height="34" fill="#32cd32"/>
<rect x="169" y="255" width="3" height="11" fill="#32cd32"/>
<rect x="174" y="257" width="1" height="22" fill="#ff0000"/>
<rect x="173" y="263" width="3" height="3" fill="#ff0000"/>
<rect x="178" y="262" width="1" height="4" fill="#32cd32"/>
<rect x="177" y="263" width="3" height="2" fill="#32cd32"/>
<rect x="182" y="239" width="1" height="28" fill="#ff0000"/>
<rect x="181" y="259" width="3" height="8" fill="#ff0000"/>
<rect x="186" y="233" width="1" height="27" fill="#ff0000"/>
<rect x="185" y="239" width="3" height="21" fill="#ff0000"/>
<rect x="190" y="202" width="1" height="44" fill="#ff0000"/>
<rect x="189" y="209" width="3" height="31" fill="#ff0000"/>
<rect x="194" y="194" width="1" height="35" fill="#32cd32"/>
<rect x="193" y="209" width="3" height="10" fill="#32cd32"/>
<rect x="198" y="212" width="1" height="34" fill="#32cd32"/>
<rect x="197" y="219" width="3" height="15" fill="#32cd32"/>
<rect x="202" y="234" width="1" height="4" fill="#32cd32"/>
<rect x="201" y="235" width="3" height="2" fill="#32cd32"/>
<rect x="206" y="228" width="1" height="47" fill="#32cd32"/>
<rect x="205" y="236" width="3" height="28" fill="#32cd32"/>
<rect x="210" y="241" width="1" height="24" fill="#ff0000"/>
<rect x="209" y="243" width="3" height="21" fill="#ff0000"/>
<rect x="214" y="230" width="1" height="19" fill="#32cd32"/>
<rect x="213" y="243" width="3" height="5" fill="#32cd32"/>
<rect x="218" y="238" width="1" height="25" fill="#ff0000"/>
<rect x="217" y="242" width="3" height="5" fill="#ff0000"/>
<rect x="222" y="231" width="1" height="28" fill="#32cd32"/>
<rect x="221" y="242" width="3" height="13" fill="#32cd32"/>
<rect x="226" y="244" width="1" height="7" fill="#ff0000"/>
<rect x="225" y="246" width="3" height="4" fill="#ff0000"/>
<rect x="230" y="241" width="1" height="23" fill="#32cd32"/>
<rect x="229" y="244" width="3" height="5" fill="#32cd32"/>
<rect x="234" y="226" width="1" height="34" fill="#ff0000"/>
<rect x="233" y="230" width="3" height="19" fill="#ff0000"/>
<rect x="238" y="229" width="1" height="44" fill="#32cd32"/>
<rect x="237" y="230" width="3" height="38" fill="#32cd32"/>
<rect x="242" y="267" width="1" height="30" fill="#ff0000"/>
<rect x="241" y="267" width="3" height="2" fill="#ff0000"/>
<rect x="246" y="255" width="1" height="23" fill="#32cd32"/>
<rect x="245" y="267" width="3" height="9" fill="#32cd32"/>
<rect x="250" y="272" width="1" height="5" fill="#ff0000"/>
<rect x="249" y="272" width="3" height="2" fill="#ff0000"/>
<rect x="254" y="250" width="1" height="29" fill="#000000"/>
<rect x="253" y="272" width="3" height="1" fill="#000000"/>
<rect x="258" y="272" width="1" height="30" fill="#32cd32"/>
<rect x="257" y="272" width="3" height="2" fill="#32cd32"/>
<rect x="262" y="262" width="1" height="40" fill="#32cd32"/>
<rect x="261" y="275" width="3" height="24" fill="#32cd32"/>
<rect x="266" y="289" width="1" height="21" fill="#32cd32"/>
<rect x="265" y="299" width="3" height="5" fill="#32cd32"/>
<rect x="270" y="301" width="1" height="21" fill="#32cd32"/>
<rect x="269" y="303" width="3" height="12" fill="#32cd32"/>
<rect x="274" y="311" width="1" height="5" fill="#ff0000"/>
<rect x="273" y="312" width="3" height="3" fill="#ff0000"/>
<rect x="278" y="291" width="1" height="31" fill="#ff0000"/>
<rect x="277" y="293" width="3" height="20" fill="#ff0000"/>
<rect x="282" y="277" width="1" height="24" fill="#32cd32"/>
<rect x="281" y="293" width="3" height="2" fill="#32cd32"/>
<rect x="286" y="290" width="1" height="24" fill="#32cd32"/>
<rect x="285" y="294" width="3" height="9" fill="#32cd32"/>
<rect x="290" y="295" width="1" height="49" fill="#32cd32"/>
<rect x="289" y="303" width="3" height="38" fill="#32cd32"/>
<rect x="294" y="306" width="1" height="44" fill="#ff0000"/>
<rect x="293" y="319" width="3" height="22" fill="#ff0000"/>
<rect x="298" y="314" width="1" height="5" fill="#ff0000"/>
<rect x="297" y="315" width="3" height="3" fill="#ff0000"/>
<rect x="302" y="309" width="1" height="50" fill="#32cd32"/>
<rect x="301" y="314" width="3" height="40" fill="#32cd32"/>
<rect x="306" y="321" width="1" height="36" fill="#ff0000"/>
<rect x="305" y="323" width="3" height="31" fill="#ff0000"/>
<rect x="310" y="321" width="1" height="28" fill="#32cd32"/>
<rect x="309" y="323" width="3" height="21" fill="#32cd32"/>
<rect x="314" y="325" width="1" height="20" fill="#ff0000"/>
<rect x="313" y="335" width="3" height="9" fill="#ff0000"/>
<rect x="318" y="307" width="1" height="37" fill="#32cd32"/>
<rect x="317" y="335" width="3" height="1" fill="#32cd32"/>
<rect x="322" y="337" width="1" height="4" fill="#32cd32"/>
<rect x="321" y="339" width="3" height="1" fill="#32cd32"/>
<rect x="326" y="317" width="1" height="23" fill="#ff0000"/>
<rect x="325" y="331" width="3" height="8" fill="#ff0000"/>
<rect x="330" y="319" width="1" height="32" fill="#32cd32"/>
<rect x="329" y="331" width="3" height="15" fill="#32cd32"/>
<rect x="334" y="300" width="1" height="47" fill="#ff0000"/>
<rect x="333" y="304" width="3" height="42" fill="#ff0000"/>
<rect x="338" y="278" width="1" height="28" fill="#ff0000"/>
<rect x="337" y="285" width="3" height="19" fill="#ff0000"/>
<rect x="342" y="270" width="1" height="22" fill="#32cd32"/>
<rect x="341" y="285" width="3" height="3" fill="#32cd32"/>
<rect x="346" y="285" width="1" height="3" fill="#ff0000"/>
<rect x="345" y="286" width="3" height="1" fill="#ff0000"/>
<rect x="350" y="259" width="1" height="42" fill="#ff0000"/>
<rect x="349" y="261" width="3" height="25" fill="#ff0000"/>
<rect x="354" y="227" width="1" height="45" fill="#ff0000"/>
<rect x="353" y="232" width="3" height="30" fill="#ff0000"/>
<rect x="358" y="217" width="1" height="32" fill="#32cd32"/>
<rect x="357" y="232" width="3" height="11" fill="#32cd32"/>
<rect x="362" y="239" width="1" height="25" fill="#32cd32"/>
<rect x="361" y="242" width="3" height="18" fill="#32cd32"/>
<rect x="366" y="240" width="1" height="24" fill="#ff0000"/>
<rect x="365" y="243" width="3" height="16" fill="#ff0000"/>
<rect x="370" y="237" width="1" height="7" fill="#ff0000"/>
<rect x="369" y="238" width="3" height="5" fill="#ff0000"/>
<rect x="374" y="214" width="1" height="40" fill="#ff0000"/>
<rect x="373" y="219" width="3" height="20" fill="#ff0000"/>
<rect x="378" y="208" width="1" height="26" fill="#ff0000"/>
<rect x="377" y="214" width="3" height="6" fill="#ff0000"/>
<rect x="382" y="191" width="1" height="28" fill="#ff0000"/>
<rect x="381" y="210" width="3" height="5" fill="#ff0000"/>
<rect x="386" y="198" width="1" height="23" fill="#ff0000"/>
<rect x="385" y="203" width="3" height="8" fill="#ff0000"/>
<rect x="390" y="202" width="1" height="83" fill="#32cd32"/>
<rect x="389" y="203" width="3" height="80" fill="#32cd32"/>
<rect x="394" y="266" width="1" height="13" fill="#ff0000"/>
<rect x="393" y="267" width="3" height="10" fill="#ff0000"/>
<rect x="398" y="250" width="1" height="28" fill="#32cd32"/>
<rect x="397" y="266" width="3" height="10" fill="#32cd32"/>
<rect x="402" y="254" width="1" height="64" fill="#32cd32"/>
<rect x="401" y="275" width="3" height="20" fill="#32cd32"/>
<rect x="406" y="282" width="1" height="29" fill="#ff0000"/>
<rect x="405" y="289" width="3" height="7" fill="#ff0000"/>
<rect x="410" y="280" width="1" height="25" fill="#32cd32"/>
<rect x="409" y="289" width="3" height="4" fill="#32cd32"/>
<rect x="414" y="282" width="1" height="31" fill="#32cd32"/>
<rect x="413" y="293" width="3" height="14" fill="#32cd32"/>
<rect x="418" y="300" width="1" height="10" fill="#ff0000"/>
<rect x="417" y="301" width="3" height="9" fill="#ff0000"/>
<rect x="422" y="252" width="1" height="50" fill="#ff0000"/>
<rect x="421" y="260" width="3" height="41" fill="#ff0000"/>
<rect x="426" y="249" width="1" height="25" fill="#32cd32"/>
<rect x="425" y="259" width="3" height="7" fill="#32cd32"/>
<rect x="430" y="262" width="1" height="35" fill="#32cd32"/>
<rect x="429" y="266" width="3" height="26" fill="#32cd32"/>
<rect x="434" y="255" width="1" height="38" fill="#ff0000"/>
<rect x="433" y="271" width="3" height="21" fill="#ff0000"/>
<rect x="438" y="261" width="1" height="33" fill="#32cd32"/>
<rect x="437" y="270" width="3" height="18" fill="#32cd32"/>
<rect x="442" y="284" width="1" height="8" fill="#ff0000"/>
<rect x="441" y="284" width="3" height="8" fill="#ff0000"/>
<rect x="446" y="259" width="1" height="30" fill="#ff0000"/>
<rect x="445" y="278" width="3" height="8" fill="#ff0000"/>
<rect x="450" y="266" width="1" height="34" fill="#ff0000"/>
<rect x="449" y="268" width="3" height="11" fill="#ff0000"/>
<rect x="454" y="238" width="1" height="35" fill="#ff0000"/>
<rect x="453" y="266" width="3" height="3" fill="#ff0000"/>
<rect x="458" y="259" width="1" height="41" fill="#32cd32"/>
<rect x="457" y="266" width="3" height="33" fill="#32cd32"/>
<rect x="462" y="266" width="1" height="41" fill="#ff0000"/>
<rect x="461" y="271" width="3" height="28" fill="#ff0000"/>
<rect x="466" y="265" width="1" height="9" fill="#32cd32"/>
<rect x="465" y="267" width="3" height="6" fill="#32cd32"/>
<rect x="470" y="263" width="1" height="35" fill="#32cd32"/>
<rect x="469" y="272" width="3" height="11" fill="#32cd32"/>
<rect x="474" y="261" width="1" height="35" fill="#ff0000"/>
<rect x="473" y="275" width="3" height="7" fill="#ff0000"/>
<rect x="478" y="262" width="1" height="37" fill="#32cd32"/>
<rect x="477" y="275" width="3" height="22" fill="#32cd32"/>
<rect x="482" y="281" width="1" height="27" fill="#32cd32"/>
<rect x="481" y="295" width="3" height="7" fill="#32cd32"/>
<rect x="486" y="294" width="1" height="20" fill="#ff0000"/>
<rect x="485" y="300" width="3" height="2" fill="#ff0000"/>
<rect x="490" y="299" width="1" height="9" fill="#ff0000"/>
<rect x="489" y="299" width="3" height="2" fill="#ff0000"/>
<rect x="494" y="292" width="1" height="19" fill="#32cd32"/>
<rect x="493" y="299" width="3" height="10" fill="#32cd32"/>
<rect x="498" y="298" width="1" height="18" fill="#32cd32"/>
<rect x="497" y="309" width="3" height="1" fill="#32cd32"/>
<rect x="502" y="292" width="1" height="44" fill="#32cd32"/>
<rect x="501" y="309" width="3" height="20" fill="#32cd32"/>
<rect x="506" y="303" width="1" height="30" fill="#000000"/>
<rect x="505" y="328" width="3" height="1" fill="#000000"/>
<rect x="510" y="323" width="1" height="28" fill="#32cd32"/>
<rect x="509" y="328" width="3" height="13" fill="#32cd32"/>
<rect x="514" y="337" width="1" height="13" fill="#ff0000"/>
<rect x="513" y="339" width="3" height="11" fill="#ff0000"/>
<rect x="518" y="292" width="1" height="50" fill="#ff0000"/>
<rect x="517" y="302" width="3" height="37" fill="#ff0000"/>
<rect x="522" y="296" width="1" height="33" fill="#32cd32"/>
<rect x="521" y="302" width="3" height="13" fill="#32cd32"/>
<rect x="526" y="302" width="1" height="26" fill="#ff0000"/>
<rect x="525" y="308" width="3" height="7" fill="#ff0000"/>
<rect x="530" y="278" width="1" height="33" fill="#ff0000"/>
<rect x="529" y="284" width="3" height="24" fill="#ff0000"/>
<rect x="534" y="274" width="1" height="28" fill="#32cd32"/>
<rect x="533" y="284" width="3" height="18" fill="#32cd32"/>
<rect x="538" y="297" width="1" height="4" fill="#ff0000"/>
<rect x="537" y="298" width="3" height="2" fill="#ff0000"/>
<rect x="542" y="248" width="1" height="52" fill="#ff0000"/>
<rect x="541" y="250" width="3" height="50" fill="#ff0000"/>
<rect x="546" y="247" width="1" height="28" fill="#32cd32"/>
<rect x="545" y="250" width="3" height="23" fill="#32cd32"/>
<rect x="550" y="267" width="1" height="66" fill="#32cd32"/>
<rect x="549" y="272" width="3" height="54" fill="#32cd32"/>
<rect x="554" y="323" width="1" height="33" fill="#32cd32"/>
<rect x="553" y="326" width="3" height="19" fill="#32cd32"/>
<rect x="558" y="326" width="1" height="29" fill="#ff0000"/>
<rect x="557" y="329" width="3" height="16" fill="#ff0000"/>
<rect x="562" y="323" width="1" height="11" fill="#ff0000"/>
<rect x="561" y="325" width="3" height="8" fill="#ff0000"/>
<rect x="566" y="317" width="1" height="21" fill="#32cd32"/>
<rect x="565" y="325" width="3" height="3" fill="#32cd32"/>
<rect x="570" y="305" width="1" height="27" fill="#ff0000"/>
<rect x="569" y="309" width="3" height="18" fill="#ff0000"/>
<rect x="574" y="306" width="1" height="20" fill="#32cd32"/>
<rect x="573" y="308" width="3" height="11" fill="#32cd32"/>
<rect x="578" y="303" width="1" height="25" fill="#ff0000"/>
<rect x="577" y="310" width="3" height="9" fill="#ff0000"/>
<rect x="582" y="309" width="1" height="38" fill="#32cd32"/>
<rect x="581" y="311" width="3" height="31" fill="#32cd32"/>
<rect x="586" y="335" width="1" height="10" fill="#ff0000"/>
<rect x="585" y="335" width="3" height="10" fill="#ff0000"/>
<rect x="590" y="317" width="1" height="29" fill="#ff0000"/>
<rect x="589" y="327" width="3" height="8" fill="#ff0000"/>
<rect x="594" y="290" width="1" height="38" fill="#ff0000"/>
<rect x="593" y="305" width="3" height="22" fill="#ff0000"/>
<rect x="598" y="266" width="1" height="43" fill="#ff0000"/>
<rect x="597" y="269" width="3" height="36" fill="#ff0000"/>
<rect x="602" y="212" width="1" height="59" fill="#ff0000"/>
<rect x="601" y="228" width="3" height="42" fill="#ff0000"/>
<rect x="606" y="217" width="1" height="24" fill="#32cd32"/>
<rect x="605" y="228" width="3" height="1" fill="#32cd32"/>
<rect x="610" y="223" width="1" height="9" fill="#ff0000"/>
<rect x="609" y="227" width="3" height="4" fill="#ff0000"/>
<rect x="614" y="209" width="1" height="54" fill="#32cd32"/>
<rect x="613" y="227" width="3" height="24" fill="#32cd32"/>
<rect x="618" y="247" width="1" height="43" fill="#32cd32"/>
<rect x="617" y="251" width="3" height="36" fill="#32cd32"/>
<rect x="622" y="279" width="1" height="27" fill="#32cd32"/>
<rect x="621" y="286" width="3" height="12" fill="#32cd32"/>
<rect x="626" y="272" width="1" height="35" fill="#ff0000"/>
<rect x="625" y="290" width="3" height="8" fill="#ff0000"/>
<rect x="630" y="258" width="1" height="40" fill="#ff0000"/>
<rect x="629" y="260" width="3" height="31" fill="#ff0000"/>
<rect x="634" y="259" width="1" height="5" fill="#32cd32"/>
<rect x="633" y="260" width="3" height="4" fill="#32cd32"/>
<rect x="638" y="256" width="1" height="25" fill="#32cd32"/>
<rect x="637" y="262" width="3" height="14" fill="#32cd32"/>
<rect x="642" y="256" width="1" height="22" fill="#ff0000"/>
<rect x="641" y="263" width="3" height="11" fill="#ff0000"/>
<rect x="646" y="261" width="1" height="19" fill="#32cd32"/>
<rect x="645" y="264" width="3" height="4" fill="#32cd32"/>
<rect x="650" y="236" width="1" height="42" fill="#ff0000"/>
<rect x="649" y="258" width="3" height="10" fill="#ff0000"/>
<rect x="654" y="242" width="1" height="21" fill="#32cd32"/>
<rect x="653" y="258" width="3" height="4" fill="#32cd32"/>
<rect x="658" y="264" width="1" height="3" fill="#ff0000"/>
<rect x="657" y="265" width="3" height="1" fill="#ff0000"/>
<rect x="662" y="250" width="1" height="21" fill="#32cd32"/>
<rect x="661" y="265" width="3" height="1" fill="#32cd32"/>
<rect x="666" y="249" width="1" height="29" fill="#ff0000"/>
<rect x="665" y="260" width="3" height="7" fill="#ff0000"/>
<rect x="670" y="257" width="1" height="33" fill="#32cd32"/>
<rect x="669" y="260" width="3" height="22" fill="#32cd32"/>
<rect x="674" y="275" width="1" height="25" fill="#32cd32"/>
<rect x="673" y="281" width="3" height="12" fill="#32cd32"/>
<rect x="678" y="282" width="1" height="16" fill="#ff0000"/>
<rect x="677" y="286" width="3" height="7" fill="#ff0000"/>
<rect x="682" y="284" width="1" height="4" fill="#32cd32"/>
<rect x="681" y="285" width="3" height="3" fill="#32cd32"/>
<rect x="686" y="283" width="1" height="39" fill="#32cd32"/>
<rect x="685" y="287" width="3" height="29" fill="#32cd32"/>
<rect x="690" y="275" width="1" height="46" fill="#ff0000"/>
<rect x="689" y="283" width="3" height="33" fill="#ff0000"/>
<rect x="694" y="280" width="1" height="32" fill="#32cd32"/>
<rect x="693" y="283" width="3" height="24" fill="#32cd32"/>
<rect x="698" y="241" width="1" height="68" fill="#ff0000"/>
<rect x="697" y="259" width="3" height="49" fill="#ff0000"/>
<rect x="702" y="243" width="1" height="33" fill="#ff0000"/>
<rect x="701" y="255" width="3" height="5" fill="#ff0000"/>
<rect x="706" y="248" width="1" height="16" fill="#ff0000"/>
<rect x="705" y="253" width="3" height="4" fill="#ff0000"/>
<rect x="710" y="247" width="1" height="66" fill="#32cd32"/>
<rect x="709" y="253" width="3" height="54" fill="#32cd32"/>
<rect x="714" y="289" width="1" height="32" fill="#ff0000"/>
<rect x="713" y="301" width="3" height="5" fill="#ff0000"/>
<rect x="718" y="269" width="1" height="44" fill="#ff0000"/>
<rect x="717" y="289" width="3" height="11" fill="#ff0000"/>
<rect x="722" y="283" width="1" height="28" fill="#32cd32"/>
<rect x="721" y="289" width="3" height="17" fill="#32cd32"/>
<rect x="726" y="286" width="1" height="27" fill="#ff0000"/>
<rect x="725" y="303" width="3" height="3" fill="#ff0000"/>
<rect x="730" y="290" width="1" height="23" fill="#ff0000"/>
<rect x="729" y="291" width="3" height="22" fill="#ff0000"/>
<rect x="734" y="250" width="1" height="47" fill="#ff0000"/>
<rect x="733" y="261" width="3" height="31" fill="#ff0000"/>
<rect x="738" y="230" width="1" height="35" fill="#ff0000"/>
<rect x="737" y="236" width="3" height="25" fill="#ff0000"/>
<rect x="742" y="235" width="1" height="29" fill="#32cd32"/>
<rect x="741" y="236" width="3" height="19" fill="#32cd32"/>
<rect x="746" y="229" width="1" height="32" fill="#ff0000"/>
<rect x="745" y="237" width="3" height="18" fill="#ff0000"/>
<rect x="750" y="205" width="1" height="36" fill="#ff0000"/>
<rect x="749" y="206" width="3" height="33" fill="#ff0000"/>
<rect x="754" y="205" width="1" height="4" fill="#32cd32"/>
<rect x="753" y="206" width="3" height="1" fill="#32cd32"/>
<rect x="758" y="183" width="1" height="40" fill="#ff0000"/>
<rect x="757" y="184" width="3" height="23" fill="#ff0000"/>
<rect x="762" y="157" width="1" height="36" fill="#ff0000"/>
<rect x="761" y="170" width="3" height="15" fill="#ff0000"/>
<rect x="766" y="141" width="1" height="42" fill="#ff0000"/>
<rect x="765" y="167" width="3" height="5" fill="#ff0000"/>
<rect x="770" y="165" width="1" height="49" fill="#32cd32"/>
<rect x="769" y="167" width="3" height="32" fill="#32cd32"/>
<rect x="774" y="186" width="1" height="40" fill="#32cd32"/>
<rect x="773" y="198" width="3" height="26" fill="#32cd32"/>
<rect x="778" y="216" width="1" height="4" fill="#ff0000"/>
<rect x="777" y="216" width="3" height="3" fill="#ff0000"/>
<rect x="782" y="205" width="1" height="34" fill="#ff0000"/>
<rect x="781" y="211" width="3" height="7" fill="#ff0000"/>
<rect x="786" y="190" width="1" height="37" fill="#32cd32"/>
<rect x="785" y="211" width="3" height="4" fill="#32cd32"/>
<rect x="790" y="201" width="1" height="35" fill="#32cd32"/>
<rect x="789" y="214" width="3" height="16" fill="#32cd32"/>
<rect x="794" y="208" width="1" height="31" fill="#32cd32"/>
<rect x="793" y="229" width="3" height="8" fill="#32cd32"/>
<rect x="798" y="226" width="1" height="32" fill="#ff0000"/>
<rect x="797" y="229" width="3" height="8" fill="#ff0000"/>
<rect x="802" y="226" width="1" height="3" fill="#ff0000"/>
<rect x="801" y="226" width="3" height="2" fill="#ff0000"/>
<rect x="806" y="187" width="1" height="43" fill="#ff0000"/>
<rect x="805" y="214" width="3" height="14" fill="#ff0000"/>
<rect x="810" y="191" width="1" height="45" fill="#32cd32"/>
<rect x="809" y="214" width="3" height="13" fill="#32cd32"/>
<rect x="814" y="226" width="1" height="56" fill="#32cd32"/>
<rect x="813" y="227" width="3" height="47" fill="#32cd32"/>
<rect x="818" y="258" width="1" height="38" fill="#32cd32"/>
<rect x="817" y="273" width="3" height="2" fill="#32cd32"/>
<rect x="822" y="246" width="1" height="35" fill="#ff0000"/>
<rect x="821" y="260" width="3" height="15" fill="#ff0000"/>
<rect x="826" y="256" width="1" height="3" fill="#32cd32"/>
<rect x="825" y="256" width="3" height="3" fill="#32cd32"/>
<rect x="830" y="245" width="1" height="22" fill="#ff0000"/>
<rect x="829" y="255" width="3" height="4" fill="#ff0000"/>
<rect x="834" y="236" width="1" height="36" fill="#ff0000"/>
<rect x="833" y="237" width="3" height="18" fill="#ff0000"/>
<rect x="838" y="205" width="1" height="33" fill="#ff0000"/>
<rect x="837" y="216" width="3" height="21" fill="#ff0000"/>
<rect x="842" y="206" width="1" height="19" fill="#ff0000"/>
<rect x="841" y="208" width="3" height="8" fill="#ff0000"/>
<rect x="846" y="191" width="1" height="28" fill="#32cd32"/>
<rect x="845" y="208" width="3" height="5" fill="#32cd32"/>
<rect x="850" y="209" width="1" height="4" fill="#ff0000"/>
<rect x="849" y="209" width="3" height="4" fill="#ff0000"/>
<rect x="854" y="192" width="1" height="42" fill="#32cd32"/>
<rect x="853" y="209" width="3" height="17" fill="#32cd32"/>
<rect x="858" y="208" width="1" height="35" fill="#ff0000"/>
<rect x="857" y="218" width="3" height="8" fill="#ff0000"/>
<rect x="862" y="201" width="1" height="24" fill="#ff0000"/>
<rect x="861" y="211" width="3" height="7" fill="#ff0000"/>
<rect x="866" y="156" width="1" height="60" fill="#ff0000"/>
<rect x="865" y="158" width="3" height="53" fill="#ff0000"/>
<rect x="870" y="151" width="1" height="19" fill="#32cd32"/>
<rect x="869" y="158" width="3" height="2" fill="#32cd32"/>
<rect x="874" y="159" width="1" height="5" fill="#ff0000"/>
<rect x="873" y="161" width="3" height="1" fill="#ff0000"/>
<rect x="878" y="145" width="1" height="19" fill="#ff0000"/>
<rect x="877" y="147" width="3" height="15" fill="#ff0000"/>
<rect x="882" y="103" width="1" height="54" fill="#ff0000"/>
<rect x="881" y="105" width="3" height="42" fill="#ff0000"/>
<rect x="886" y="96" width="1" height="49" fill="#32cd32"/>
<rect x="885" y="105" width="3" height="19" fill="#32cd32"/>
<rect x="890" y="88" width="1" height="55" fill="#ff0000"/>
<rect x="889" y="95" width="3" height="28" fill="#ff0000"/>
<rect x="894" y="63" width="1" height="39" fill="#ff0000"/>
<rect x="893" y="77" width="3" height="19" fill="#ff0000"/>
<rect x="898" y="78" width="1" height="8" fill="#32cd32"/>
<rect x="897" y="79" width="3" height="6" fill="#32cd32"/>
<rect x="902" y="61" width="1" height="30" fill="#ff0000"/>
<rect x="901" y="68" width="3" height="17" fill="#ff0000"/>
<rect x="906" y="44" width="1" height="37" fill="#ff0000"/>
<rect x="905" y="45" width="3" height="24" fill="#ff0000"/>
<rect x="910" y="44" width="1" height="5" fill="#32cd32"/>
<rect x="909" y="45" width="3" height="3" fill="#32cd32"/>
</svg>
<svg class="abs" style="left:0;top:0" width="1190" height="573" viewBox="0 0 1190 573" shape-rendering="crispEdges">
<rect x="226" y="56" width="923" height="2" fill="#ff0000"/>
<rect x="2" y="56" width="1" height="2" fill="#ff0000"/>
<rect x="2" y="116" width="1147" height="2" fill="#ff0000"/>
<rect x="2" y="185" width="1147" height="2" fill="#00ff00"/>
<rect x="2" y="244" width="1147" height="2" fill="#0000ff"/>
<rect x="2" y="313" width="1147" height="2" fill="#0000ff"/>
<rect x="1" y="183" width="6" height="6" fill="#00ff00"/>
<rect x="3" y="185" width="2" height="2" fill="#fff"/>
<rect x="1142" y="183" width="6" height="6" fill="#00ff00"/>
<rect x="1144" y="185" width="2" height="2" fill="#fff"/>
<rect x="1" y="242" width="6" height="6" fill="#0000ff"/>
<rect x="3" y="244" width="2" height="2" fill="#fff"/>
<rect x="1142" y="242" width="6" height="6" fill="#0000ff"/>
<rect x="1144" y="244" width="2" height="2" fill="#fff"/>
<rect x="1" y="311" width="6" height="6" fill="#0000ff"/>
<rect x="3" y="313" width="2" height="2" fill="#fff"/>
<rect x="1142" y="311" width="6" height="6" fill="#0000ff"/>
<rect x="1144" y="313" width="2" height="2" fill="#fff"/>
</svg>
<div class="t ax" style="top:83.5px">0.95490</div>
<div class="t ax" style="top:116.5px">0.94935</div>
<div class="t ax" style="top:149.5px">0.94365</div>
<div class="t ax" style="top:215.5px">0.93225</div>
<div class="t ax" style="top:248.5px">0.92670</div>
<div class="t ax" style="top:281.5px">0.92100</div>
<div class="t ax" style="top:315.5px">0.91530</div>
<div class="t ax" style="top:347.5px">0.90975</div>
<div class="t ax" style="top:380.5px">0.90405</div>
<div class="t ax" style="left:1152px;top:393.5px">0.008455</div>
<div class="t ax" style="left:1152px;top:432.0px">0.00</div>
<div class="t ax" style="left:1152px;top:445.5px">-0.003783</div>
<div class="t ax" style="left:1152px;top:461.0px">100</div>
<div class="t ax" style="left:1152px;top:476.0px">70</div>
<div class="t ax" style="left:1152px;top:502.0px">30</div>
<div class="t ax" style="left:1152px;top:516.0px">0</div>
<div class="lbl" style="top:42px;background:#000">0.96196</div>
<div class="lbl" style="top:51px;background:#ff0000">0.96019</div>
<div class="lbl" style="top:111px;background:#ff0000">0.95004</div>
<div class="lbl" style="top:180px;background:#00ff00">0.93807</div>
<div class="lbl" style="top:239px;background:#0000ff">0.92801</div>
<div class="lbl" style="top:308px;background:#0000ff">0.91613</div>
<svg class="abs" style="left:5px;top:31px" width="8" height="5" viewBox="0 0 8 5"><path d="M0 4.6 L4 0.4 L8 4.6Z" fill="#000"/></svg>
<div class="t" style="left:17.6px;top:28.5px;font-size:9.65px">USDCHF-,Daily</div>
<div class="t" style="left:91px;top:29px;font-size:9.2px">0.96238 0.96246 0.96189 0.96196</div>
<div class="t" style="left:6px;top:395px;font-size:9.4px">MACD(12,26,9) 0.007898 0.005909</div>
<div class="t" style="left:6px;top:463px;font-size:9.4px">RSI(14) 76.5392</div>
<div class="abs" style="left:5px;top:69px;width:109px;height:33px;background:linear-gradient(#3232e6,#0000a6);border:1px solid #0a0aae"></div>
<div class="abs" style="left:116px;top:69px;width:108px;height:33px;background:linear-gradient(#3232e6,#0000a6);border:1px solid #0a0aae"></div>
<div class="abs" style="left:5px;top:45px;width:52px;height:25px;background:linear-gradient(#5c5cff,#3232e6);border:1px solid #1212b8;border-bottom:none"></div>
<div class="abs" style="left:172px;top:45px;width:52px;height:25px;background:linear-gradient(#5c5cff,#3232e6);border:1px solid #1212b8;border-bottom:none"></div>
<div class="abs" style="left:9px;top:68px;width:44px;height:1px;background:#0c0ca8"></div><div class="abs" style="left:9px;top:69px;width:44px;height:1px;background:#7c7cff"></div>
<div class="abs" style="left:176px;top:68px;width:44px;height:1px;background:#0c0ca8"></div><div class="abs" style="left:176px;top:69px;width:44px;height:1px;background:#7c7cff"></div>
<div class="abs" style="left:59px;top:45px;width:111px;height:22px;background:#fff;border:1px solid #b4b4b4"></div>
<div class="abs" style="left:60px;top:46px;width:20px;height:20px;background:linear-gradient(#ececec,#cfcfcf);border:1px solid #c8c8c8"></div>
<div class="abs" style="left:149px;top:46px;width:20px;height:20px;background:linear-gradient(#ececec,#cfcfcf);border:1px solid #c8c8c8"></div>
<div class="abs" style="left:67px;top:54px;width:0;height:0;border-left:3px solid transparent;border-right:3px solid transparent;border-top:3px solid #5060b0"></div>
<div class="abs" style="left:156px;top:54px;width:0;height:0;border-left:3px solid transparent;border-right:3px solid transparent;border-bottom:3px solid #5060b0"></div>
<div class="t" style="left:121px;top:50px;font-size:12px;color:#000">2.00</div>
<div class="t" style="left:17.5px;top:51px;font-size:12px;color:#fff;transform:scaleX(.87);transform-origin:0 0">SELL</div>
<div class="t" style="left:185.2px;top:51px;font-size:12px;color:#fff">BUY</div>
<div class="t" style="left:25px;top:87px;font-size:11.5px;font-weight:bold;color:#fff;letter-spacing:.5px">0.96</div>
<div class="t" style="left:135px;top:87px;font-size:11.5px;font-weight:bold;color:#fff;letter-spacing:.5px">0.96</div>
<div class="t" style="left:52px;top:69px;font-size:33.5px;color:#fff;letter-spacing:-1px">19</div>
<div class="t" style="left:162.5px;top:69px;font-size:33.5px;color:#fff;letter-spacing:-1px">21</div>
<div class="t" style="left:92px;top:71px;font-size:12.5px;font-weight:bold;color:#fff">6</div>
<div class="t" style="left:203px;top:71px;font-size:12.5px;font-weight:bold;color:#fff">7</div>
<div class="t dt" style="left:1.3px">5 Aug 2021</div>
<div class="t dt" style="left:65.3px">24 Aug 2021</div>
<div class="t dt" style="left:129.3px">12 Sep 2021</div>
<div class="t dt" style="left:193.3px">30 Sep 2021</div>
<div class="t dt" style="left:257.3px">19 Oct 2021</div>
<div class="t dt" style="left:321.3px">7 Nov 2021</div>
<div class="t dt" style="left:385.3px">25 Nov 2021</div>
<div class="t dt" style="left:449.3px">14 Dec 2021</div>
<div class="t dt" style="left:513.3px">2 Jan 2022</div>
<div class="t dt" style="left:577.3px">20 Jan 2022</div>
<div class="t dt" style="left:641.3px">8 Feb 2022</div>
<div class="t dt" style="left:705.3px">27 Feb 2022</div>
<div class="t dt" style="left:769.3px">17 Mar 2022</div>
<div class="t dt" style="left:833.3px">5 Apr 2022</div>
<div class="t dt" style="left:897.3px">24 Apr 2022</div>
<div class="abs" style="left:0;top:548px;width:1190px;height:1px;background:#e2e2e2"></div>
<div class="abs" style="left:0;top:549px;width:1190px;height:1px;background:#f4f4f4"></div>
<div class="abs" style="left:0;top:550px;width:1190px;height:19px;background:#f0f0f0"></div>
<div class="abs" style="left:0;top:550px;width:1190px;height:1px;background:#000"></div>
<div class="abs" style="left:0;top:570px;width:1190px;height:3px;background:#f0f0f0"></div>
<div class="abs" style="left:319px;top:550px;width:108px;height:19px;background:#fff;border:1px solid #000;border-top:none"></div>
<div class="t tab" style="left:14px">USDX,Weekly</div>
<div class="t tab" style="left:114px">EURUSD-,Daily</div>
<div class="t tab" style="left:221px">AUDUSD-,Daily</div>
<div class="t tab" style="left:438px">USDCAD-,Daily</div>
<div class="t tab" style="left:547px">USDCNH-,Daily</div>
<div class="t tab" style="left:657px">XAUUSD-,Daily</div>
<div class="t tab" style="left:765px"><span style="letter-spacing:.35px">UKOil-,H1</span></div>
<div class="t tab" style="left:847px">DJ30-,Daily</div>
<div class="t tab" style="left:934px">UK100-,H1</div>
<div class="t tab" style="left:1019px">USOil-,H1</div>
<div class="t tab" style="left:1097px">HK50-,H1</div>
<div class="t tab" style="left:331px;color:#000;font-size:12px">USDCHF-,Daily</div>
<div class="sep" style="left:103px"></div>
<div class="sep" style="left:211px"></div>
<div class="sep" style="left:536px"></div>
<div class="sep" style="left:647px"></div>
<div class="sep" style="left:755px"></div>
<div class="sep" style="left:835px"></div>
<div class="sep" style="left:923px"></div>
<div class="sep" style="left:1007px"></div>
<div class="sep" style="left:1087px"></div>
<div class="abs" style="left:1164px;top:557px;width:0;height:0;border-top:3px solid transparent;border-bottom:3px solid transparent;border-right:3px solid #808080"></div>
<div class="abs" style="left:1181px;top:556px;width:0;height:0;border-top:4px solid transparent;border-bottom:4px solid transparent;border-left:4px solid #000"></div>
</body></html>
